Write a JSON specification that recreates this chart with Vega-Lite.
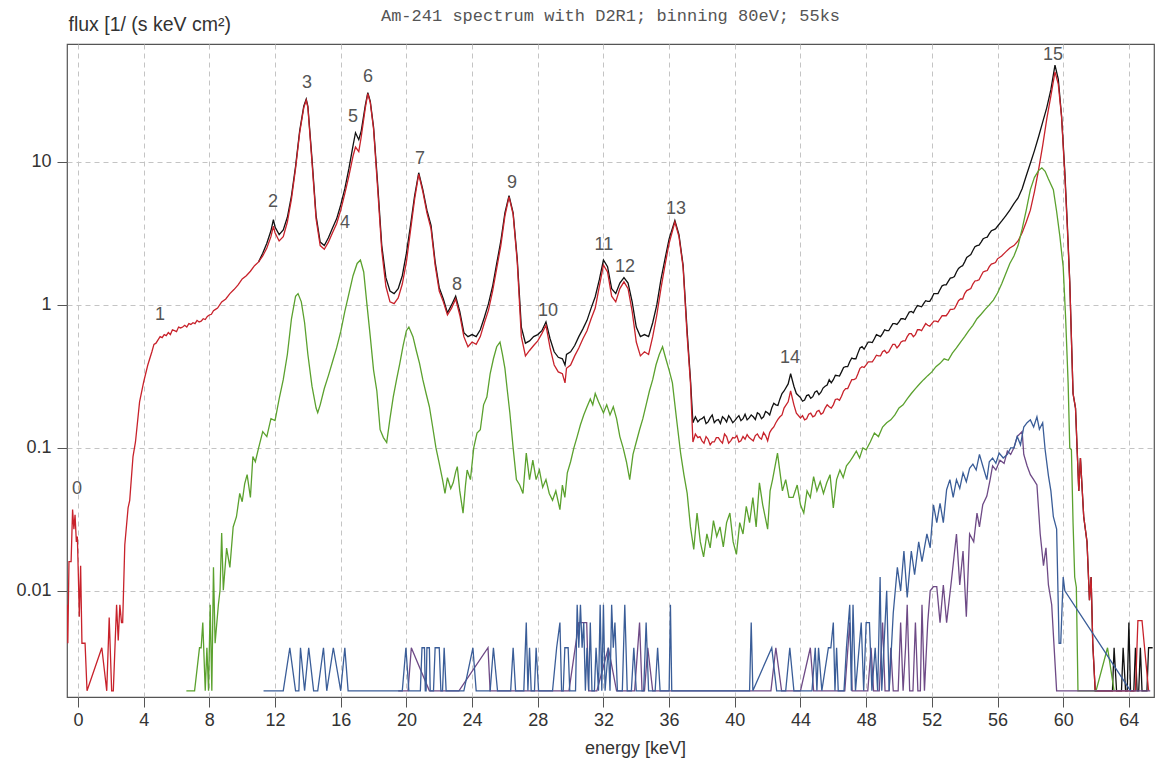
{
  "$schema": "https://vega.github.io/schema/vega-lite/v6.json",
  "width": 1087,
  "height": 653,
  "autosize": {"type": "none"},
  "padding": {"left": 67, "top": 44, "right": 4, "bottom": 64},
  "background": "white",
  "title": {
    "text": "Am-241 spectrum with D2R1; binning 80eV; 55ks",
    "font": "Liberation Mono",
    "fontSize": 17,
    "fontWeight": "normal",
    "color": "#555",
    "anchor": "middle",
    "offset": -11
  },
  "config": {
    "font": "Liberation Sans",
    "view": {"stroke": "#555", "strokeWidth": 1.2},
    "axis": {
      "labelFont": "Liberation Sans",
      "labelFontSize": 18,
      "labelColor": "#333",
      "tickColor": "#555",
      "tickSize": 10,
      "domain": false,
      "gridColor": "#c4c4c4",
      "gridDash": [5, 4],
      "gridWidth": 1,
      "titleFont": "Liberation Sans",
      "titleFontWeight": "normal",
      "titleFontSize": 18,
      "titleColor": "#333"
    }
  },
  "datasets": {
    "black": [
      {"e":11.0,"v":2.0},{"e":11.25,"v":2.3},{"e":11.5,"v":2.7},{"e":11.75,"v":3.3},{"e":11.9,"v":3.95},{"e":12.0,"v":3.5},{"e":12.25,"v":3.1},{"e":12.5,"v":3.35},{"e":12.75,"v":4.1},{"e":13.0,"v":5.8},{"e":13.25,"v":9.3},{"e":13.5,"v":16.5},{"e":13.75,"v":24.5},{"e":13.9,"v":27.5},{"e":14.0,"v":24.5},{"e":14.25,"v":10.5},{"e":14.5,"v":4.2},{"e":14.75,"v":2.75},{"e":15.0,"v":2.6},{"e":15.25,"v":2.95},{"e":15.5,"v":3.45},{"e":15.75,"v":4.0},{"e":16.0,"v":5.0},{"e":16.25,"v":6.5},{"e":16.5,"v":9.0},{"e":16.75,"v":13},{"e":16.9,"v":16},{"e":17.1,"v":14.3},{"e":17.25,"v":16.5},{"e":17.5,"v":25},{"e":17.65,"v":30.5},{"e":17.8,"v":26.5},{"e":18.0,"v":17.5},{"e":18.25,"v":7},{"e":18.5,"v":2.6},{"e":18.75,"v":1.55},{"e":19.0,"v":1.25},{"e":19.25,"v":1.2},{"e":19.5,"v":1.3},{"e":19.75,"v":1.6},{"e":20.0,"v":2.3},{"e":20.25,"v":3.6},{"e":20.5,"v":5.8},{"e":20.75,"v":8.4},{"e":21.0,"v":6.4},{"e":21.25,"v":4.6},{"e":21.5,"v":3.6},{"e":21.75,"v":2.0},{"e":22.0,"v":1.32},{"e":22.25,"v":1.1},{"e":22.5,"v":0.88},{"e":22.75,"v":1.0},{"e":23.0,"v":1.15},{"e":23.25,"v":0.9},{"e":23.5,"v":0.64},{"e":23.75,"v":0.6},{"e":24.0,"v":0.62},{"e":24.25,"v":0.6},{"e":24.5,"v":0.67},{"e":24.75,"v":0.82},{"e":25.0,"v":1.02},{"e":25.25,"v":1.35},{"e":25.5,"v":1.95},{"e":25.75,"v":2.8},{"e":26.0,"v":4.4},{"e":26.25,"v":5.8},{"e":26.5,"v":4.4},{"e":26.75,"v":2.1},{"e":27.0,"v":0.7},{"e":27.25,"v":0.54},{"e":27.5,"v":0.56},{"e":27.75,"v":0.6},{"e":28.0,"v":0.62},{"e":28.25,"v":0.66},{"e":28.5,"v":0.76},{"e":28.75,"v":0.58},{"e":29.0,"v":0.47},{"e":29.25,"v":0.43},{"e":29.5,"v":0.42},{"e":29.66,"v":0.38},{"e":29.75,"v":0.45},{"e":30.0,"v":0.47},{"e":30.25,"v":0.52},{"e":30.5,"v":0.6},{"e":30.75,"v":0.68},{"e":31.0,"v":0.78},{"e":31.25,"v":0.95},{"e":31.5,"v":1.14},{"e":31.75,"v":1.5},{"e":32.0,"v":2.06},{"e":32.25,"v":1.85},{"e":32.5,"v":1.3},{"e":32.75,"v":1.2},{"e":33.0,"v":1.42},{"e":33.25,"v":1.55},{"e":33.5,"v":1.42},{"e":33.75,"v":1.05},{"e":34.0,"v":0.7},{"e":34.25,"v":0.6},{"e":34.5,"v":0.62},{"e":34.75,"v":0.6},{"e":35.0,"v":0.75},{"e":35.25,"v":1.0},{"e":35.5,"v":1.5},{"e":35.75,"v":2.1},{"e":36.0,"v":2.9},{"e":36.35,"v":3.9},{"e":36.6,"v":3.1},{"e":36.85,"v":1.9},{"e":37.1,"v":0.65},{"e":37.3,"v":0.3},{"e":37.45,"v":0.15},{"e":37.6,"v":0.165},{"e":37.75,"v":0.152},{"e":38.0,"v":0.16},{"e":38.25,"v":0.148},{"e":38.5,"v":0.162},{"e":38.75,"v":0.15},{"e":39.0,"v":0.158},{"e":39.25,"v":0.165},{"e":39.5,"v":0.152},{"e":39.75,"v":0.16},{"e":40.0,"v":0.155},{"e":40.25,"v":0.168},{"e":40.5,"v":0.16},{"e":40.75,"v":0.157},{"e":41.0,"v":0.17},{"e":41.25,"v":0.158},{"e":41.5,"v":0.172},{"e":41.75,"v":0.165},{"e":42.0,"v":0.176},{"e":42.25,"v":0.19},{"e":42.5,"v":0.2},{"e":42.75,"v":0.22},{"e":43.0,"v":0.25},{"e":43.25,"v":0.28},{"e":43.4,"v":0.33},{"e":43.6,"v":0.27},{"e":43.75,"v":0.24},{"e":44.0,"v":0.225},{"e":44.25,"v":0.216},{"e":44.5,"v":0.235},{"e":44.75,"v":0.228},{"e":45.0,"v":0.25},{"e":45.25,"v":0.245},{"e":45.5,"v":0.27},{"e":45.75,"v":0.3},{"e":46.0,"v":0.3},{"e":46.25,"v":0.32},{"e":46.5,"v":0.34},{"e":46.75,"v":0.37},{"e":47.0,"v":0.4},{"e":47.25,"v":0.42},{"e":47.5,"v":0.46},{"e":47.75,"v":0.51},{"e":48.0,"v":0.52},{"e":48.25,"v":0.55},{"e":48.5,"v":0.58},{"e":48.75,"v":0.61},{"e":49.0,"v":0.63},{"e":49.25,"v":0.66},{"e":49.5,"v":0.7},{"e":49.75,"v":0.74},{"e":50.0,"v":0.76},{"e":50.25,"v":0.8},{"e":50.5,"v":0.84},{"e":50.75,"v":0.9},{"e":51.0,"v":0.94},{"e":51.25,"v":0.98},{"e":51.5,"v":1.02},{"e":51.75,"v":1.06},{"e":52.0,"v":1.12},{"e":52.25,"v":1.2},{"e":52.5,"v":1.28},{"e":52.75,"v":1.38},{"e":53.0,"v":1.46},{"e":53.25,"v":1.55},{"e":53.5,"v":1.7},{"e":53.75,"v":1.85},{"e":54.0,"v":2.0},{"e":54.25,"v":2.2},{"e":54.5,"v":2.4},{"e":54.75,"v":2.6},{"e":55.0,"v":2.75},{"e":55.25,"v":2.95},{"e":55.5,"v":3.15},{"e":55.75,"v":3.35},{"e":56.0,"v":3.55},{"e":56.25,"v":3.85},{"e":56.5,"v":4.2},{"e":56.75,"v":4.6},{"e":57.0,"v":5.1},{"e":57.25,"v":5.6},{"e":57.5,"v":6.5},{"e":57.75,"v":8},{"e":58.0,"v":9.8},{"e":58.25,"v":12},{"e":58.5,"v":15},{"e":58.75,"v":19},{"e":59.0,"v":24},{"e":59.25,"v":32},{"e":59.5,"v":47.6},{"e":59.7,"v":38},{"e":59.9,"v":21},{"e":60.1,"v":8.5},{"e":60.25,"v":3.7},{"e":60.4,"v":1.45},{"e":60.6,"v":0.24},{"e":60.75,"v":0.19},{"e":60.85,"v":0.097},{"e":60.95,"v":0.05},{"e":61.05,"v":0.085},{"e":61.25,"v":0.033},{"e":61.45,"v":0.022},{"e":61.6,"v":0.0086},{"e":61.7,"v":0.0125},{"e":61.8,"v":0.0043},{"e":61.95,"v":0.002},{"e":63.0,"v":0.002},{"e":63.1,"v":0.004},{"e":63.25,"v":0.002},{"e":63.55,"v":0.002},{"e":63.65,"v":0.004},{"e":63.8,"v":0.002},{"e":63.9,"v":0.002},{"e":64.0,"v":0.006},{"e":64.1,"v":0.002},{"e":64.3,"v":0.002},{"e":64.4,"v":0.004},{"e":64.5,"v":0.002},{"e":64.6,"v":0.002},{"e":64.7,"v":0.004},{"e":64.8,"v":0.002},{"e":65.1,"v":0.002},{"e":65.2,"v":0.004},{"e":65.45,"v":0.004},
      {"e":37.875,"v":0.158},{"e":38.125,"v":0.165},{"e":38.375,"v":0.152},{"e":38.625,"v":0.17},{"e":38.875,"v":0.156},{"e":39.125,"v":0.148},{"e":39.375,"v":0.16},{"e":39.625,"v":0.168},{"e":39.875,"v":0.15},{"e":40.125,"v":0.162},{"e":40.375,"v":0.155},{"e":40.625,"v":0.172},{"e":40.875,"v":0.162},{"e":41.125,"v":0.165},{"e":41.375,"v":0.176},{"e":41.625,"v":0.16},{"e":41.875,"v":0.18},{"e":42.125,"v":0.17},{"e":42.375,"v":0.205},{"e":42.625,"v":0.198},{"e":42.875,"v":0.24},
      {"e":44.125,"v":0.212},{"e":44.375,"v":0.232},{"e":44.625,"v":0.222},{"e":44.875,"v":0.245},{"e":45.125,"v":0.236},{"e":45.375,"v":0.262},{"e":45.625,"v":0.275},{"e":45.875,"v":0.285},{"e":46.125,"v":0.322},{"e":46.375,"v":0.318},{"e":46.625,"v":0.365},{"e":46.875,"v":0.37},{"e":47.125,"v":0.425},{"e":47.375,"v":0.42},{"e":47.625,"v":0.5},{"e":47.875,"v":0.49},{"e":48.125,"v":0.55},{"e":48.375,"v":0.545},{"e":48.625,"v":0.62},{"e":48.875,"v":0.6},{"e":49.125,"v":0.67},{"e":49.375,"v":0.66},{"e":49.625,"v":0.74},{"e":49.875,"v":0.73},{"e":50.125,"v":0.8},{"e":50.375,"v":0.79},{"e":50.625,"v":0.89},{"e":50.875,"v":0.88},{"e":51.125,"v":0.99},{"e":51.375,"v":0.97},{"e":51.625,"v":1.07},{"e":51.875,"v":1.06},{"e":52.125,"v":1.2},{"e":52.375,"v":1.2},{"e":52.625,"v":1.36},{"e":52.875,"v":1.38},{"e":53.125,"v":1.54},{"e":53.375,"v":1.58},{"e":53.625,"v":1.8},{"e":53.875,"v":1.88},{"e":54.125,"v":2.15},{"e":54.375,"v":2.25},{"e":54.625,"v":2.55},{"e":54.875,"v":2.62},{"e":55.125,"v":2.9},{"e":55.375,"v":2.98},{"e":55.625,"v":3.3},{"e":55.875,"v":3.4}
    ],
    "red": [
      {"e":-0.66,"v":0.008},{"e":-0.62,"v":0.0043},{"e":-0.55,"v":0.016},{"e":-0.42,"v":0.016},{"e":-0.33,"v":0.037},{"e":-0.25,"v":0.027},{"e":-0.18,"v":0.034},{"e":-0.1,"v":0.022},{"e":-0.04,"v":0.024},{"e":0.02,"v":0.013},{"e":0.08,"v":0.0066},{"e":0.16,"v":0.015},{"e":0.24,"v":0.0043},{"e":0.43,"v":0.0043},{"e":0.55,"v":0.002},{"e":1.45,"v":0.004},{"e":1.75,"v":0.002},{"e":1.9,"v":0.0065},{"e":2.05,"v":0.002},{"e":2.15,"v":0.002},{"e":2.35,"v":0.008},{"e":2.45,"v":0.0045},{"e":2.55,"v":0.008},{"e":2.65,"v":0.006},{"e":2.72,"v":0.006},{"e":2.85,"v":0.021},{"e":3.05,"v":0.038},{"e":3.15,"v":0.043},{"e":3.35,"v":0.087},{"e":3.5,"v":0.11},{"e":3.75,"v":0.21},{"e":4.0,"v":0.29},{"e":4.25,"v":0.38},{"e":4.5,"v":0.47},{"e":4.625,"v":0.53},{"e":4.75,"v":0.54},{"e":4.875,"v":0.57},{"e":5.0,"v":0.6},{"e":5.125,"v":0.59},{"e":5.25,"v":0.62},{"e":5.375,"v":0.61},{"e":5.5,"v":0.64},{"e":5.625,"v":0.62},{"e":5.75,"v":0.67},{"e":5.875,"v":0.66},{"e":6.0,"v":0.65},{"e":6.125,"v":0.7},{"e":6.25,"v":0.69},{"e":6.375,"v":0.7},{"e":6.5,"v":0.72},{"e":6.625,"v":0.7},{"e":6.75,"v":0.74},{"e":6.875,"v":0.73},{"e":7.0,"v":0.75},{"e":7.125,"v":0.74},{"e":7.25,"v":0.78},{"e":7.375,"v":0.76},{"e":7.5,"v":0.77},{"e":7.625,"v":0.8},{"e":7.75,"v":0.79},{"e":7.875,"v":0.83},{"e":8.0,"v":0.85},{"e":8.125,"v":0.86},{"e":8.25,"v":0.91},{"e":8.375,"v":0.93},{"e":8.5,"v":0.95},{"e":8.75,"v":1.05},{"e":9.0,"v":1.1},{"e":9.25,"v":1.2},{"e":9.5,"v":1.28},{"e":9.75,"v":1.38},{"e":10.0,"v":1.52},{"e":10.25,"v":1.6},{"e":10.5,"v":1.72},{"e":10.75,"v":1.88},{"e":11.0,"v":2.0},{"e":11.25,"v":2.2},{"e":11.5,"v":2.5},{"e":11.75,"v":3.0},{"e":11.9,"v":3.55},{"e":12.0,"v":3.2},{"e":12.25,"v":2.8},{"e":12.5,"v":3.0},{"e":12.75,"v":3.8},{"e":13.0,"v":5.5},{"e":13.25,"v":9.0},{"e":13.5,"v":16},{"e":13.75,"v":24},{"e":13.9,"v":27},{"e":14.0,"v":24},{"e":14.25,"v":10},{"e":14.5,"v":4.0},{"e":14.75,"v":2.6},{"e":15.0,"v":2.45},{"e":15.25,"v":2.75},{"e":15.5,"v":3.2},{"e":15.75,"v":3.7},{"e":16.0,"v":4.6},{"e":16.25,"v":6.0},{"e":16.5,"v":8.0},{"e":16.75,"v":11},{"e":16.9,"v":12.7},{"e":17.1,"v":11.8},{"e":17.25,"v":15},{"e":17.5,"v":24},{"e":17.65,"v":30},{"e":17.8,"v":26},{"e":18.0,"v":17},{"e":18.25,"v":6.5},{"e":18.5,"v":2.4},{"e":18.75,"v":1.35},{"e":19.0,"v":1.05},{"e":19.25,"v":1.02},{"e":19.5,"v":1.12},{"e":19.75,"v":1.4},{"e":20.0,"v":2.0},{"e":20.25,"v":3.3},{"e":20.5,"v":5.5},{"e":20.75,"v":8.2},{"e":21.0,"v":6.2},{"e":21.25,"v":4.4},{"e":21.5,"v":3.4},{"e":21.75,"v":1.9},{"e":22.0,"v":1.25},{"e":22.25,"v":1.05},{"e":22.5,"v":0.85},{"e":22.75,"v":0.95},{"e":23.0,"v":1.1},{"e":23.25,"v":0.85},{"e":23.5,"v":0.6},{"e":23.75,"v":0.51},{"e":24.0,"v":0.55},{"e":24.25,"v":0.53},{"e":24.5,"v":0.6},{"e":24.75,"v":0.75},{"e":25.0,"v":0.92},{"e":25.25,"v":1.25},{"e":25.5,"v":1.8},{"e":25.75,"v":2.6},{"e":26.0,"v":4.2},{"e":26.25,"v":5.7},{"e":26.5,"v":4.3},{"e":26.75,"v":2.0},{"e":27.0,"v":0.6},{"e":27.25,"v":0.44},{"e":27.5,"v":0.48},{"e":27.75,"v":0.52},{"e":28.0,"v":0.56},{"e":28.25,"v":0.63},{"e":28.5,"v":0.72},{"e":28.75,"v":0.5},{"e":29.0,"v":0.38},{"e":29.25,"v":0.34},{"e":29.5,"v":0.33},{"e":29.66,"v":0.285},{"e":29.75,"v":0.36},{"e":30.0,"v":0.38},{"e":30.25,"v":0.44},{"e":30.5,"v":0.5},{"e":30.75,"v":0.58},{"e":31.0,"v":0.66},{"e":31.25,"v":0.8},{"e":31.5,"v":0.95},{"e":31.75,"v":1.35},{"e":32.0,"v":1.9},{"e":32.25,"v":1.7},{"e":32.5,"v":1.15},{"e":32.75,"v":1.05},{"e":33.0,"v":1.3},{"e":33.25,"v":1.45},{"e":33.5,"v":1.3},{"e":33.75,"v":0.9},{"e":34.0,"v":0.55},{"e":34.25,"v":0.44},{"e":34.5,"v":0.47},{"e":34.75,"v":0.45},{"e":35.0,"v":0.6},{"e":35.25,"v":0.85},{"e":35.5,"v":1.3},{"e":35.75,"v":1.9},{"e":36.0,"v":2.7},{"e":36.35,"v":3.8},{"e":36.6,"v":3.0},{"e":36.85,"v":1.84},{"e":37.1,"v":0.6},{"e":37.3,"v":0.285},{"e":37.45,"v":0.11},{"e":37.6,"v":0.125},{"e":37.75,"v":0.118},{"e":38.0,"v":0.112},{"e":38.25,"v":0.12},{"e":38.5,"v":0.105},{"e":38.75,"v":0.11},{"e":39.0,"v":0.118},{"e":39.25,"v":0.108},{"e":39.5,"v":0.12},{"e":39.75,"v":0.112},{"e":40.0,"v":0.117},{"e":40.25,"v":0.11},{"e":40.5,"v":0.12},{"e":40.75,"v":0.124},{"e":41.0,"v":0.115},{"e":41.25,"v":0.122},{"e":41.5,"v":0.118},{"e":41.75,"v":0.128},{"e":42.0,"v":0.112},{"e":42.25,"v":0.135},{"e":42.5,"v":0.15},{"e":42.75,"v":0.165},{"e":43.0,"v":0.19},{"e":43.25,"v":0.21},{"e":43.4,"v":0.25},{"e":43.6,"v":0.2},{"e":43.75,"v":0.175},{"e":44.0,"v":0.162},{"e":44.25,"v":0.157},{"e":44.5,"v":0.172},{"e":44.75,"v":0.165},{"e":45.0,"v":0.18},{"e":45.25,"v":0.172},{"e":45.5,"v":0.19},{"e":45.75,"v":0.194},{"e":46.0,"v":0.2},{"e":46.25,"v":0.22},{"e":46.5,"v":0.23},{"e":46.75,"v":0.26},{"e":47.0,"v":0.28},{"e":47.25,"v":0.3},{"e":47.5,"v":0.33},{"e":47.75,"v":0.37},{"e":48.0,"v":0.38},{"e":48.25,"v":0.4},{"e":48.5,"v":0.42},{"e":48.75,"v":0.44},{"e":49.0,"v":0.47},{"e":49.25,"v":0.46},{"e":49.5,"v":0.5},{"e":49.75,"v":0.53},{"e":50.0,"v":0.52},{"e":50.25,"v":0.56},{"e":50.5,"v":0.6},{"e":50.75,"v":0.63},{"e":51.0,"v":0.62},{"e":51.25,"v":0.67},{"e":51.5,"v":0.7},{"e":51.75,"v":0.72},{"e":52.0,"v":0.74},{"e":52.25,"v":0.77},{"e":52.5,"v":0.8},{"e":52.75,"v":0.84},{"e":53.0,"v":0.88},{"e":53.25,"v":0.93},{"e":53.5,"v":1.0},{"e":53.75,"v":1.1},{"e":54.0,"v":1.2},{"e":54.25,"v":1.28},{"e":54.5,"v":1.4},{"e":54.75,"v":1.48},{"e":55.0,"v":1.6},{"e":55.25,"v":1.72},{"e":55.5,"v":1.85},{"e":55.75,"v":1.95},{"e":56.0,"v":2.1},{"e":56.25,"v":2.2},{"e":56.5,"v":2.35},{"e":56.75,"v":2.5},{"e":57.0,"v":2.6},{"e":57.25,"v":2.8},{"e":57.5,"v":3.2},{"e":57.75,"v":3.8},{"e":58.0,"v":4.6},{"e":58.25,"v":6.2},{"e":58.5,"v":8.8},{"e":58.75,"v":13},{"e":59.0,"v":20},{"e":59.25,"v":29},{"e":59.5,"v":42.6},{"e":59.7,"v":35},{"e":59.9,"v":20.7},{"e":60.1,"v":8},{"e":60.25,"v":3.5},{"e":60.4,"v":1.42},{"e":60.6,"v":0.24},{"e":60.75,"v":0.19},{"e":60.85,"v":0.097},{"e":60.95,"v":0.05},{"e":61.05,"v":0.085},{"e":61.25,"v":0.033},{"e":61.45,"v":0.022},{"e":61.6,"v":0.0086},{"e":61.7,"v":0.0125},{"e":61.8,"v":0.0043},{"e":61.95,"v":0.002},{"e":64.4,"v":0.002},{"e":64.55,"v":0.0062},{"e":64.8,"v":0.0062},{"e":65.2,"v":0.002},
      {"e":37.875,"v":0.12},{"e":38.125,"v":0.108},{"e":38.375,"v":0.115},{"e":38.625,"v":0.11},{"e":38.875,"v":0.118},{"e":39.125,"v":0.112},{"e":39.375,"v":0.125},{"e":39.625,"v":0.108},{"e":39.875,"v":0.118},{"e":40.125,"v":0.122},{"e":40.375,"v":0.112},{"e":40.625,"v":0.115},{"e":40.875,"v":0.118},{"e":41.125,"v":0.112},{"e":41.375,"v":0.125},{"e":41.625,"v":0.115},{"e":41.875,"v":0.122},{"e":42.125,"v":0.128},{"e":42.375,"v":0.14},{"e":42.625,"v":0.158},{"e":42.875,"v":0.17},
      {"e":44.125,"v":0.168},{"e":44.375,"v":0.16},{"e":44.625,"v":0.175},{"e":44.875,"v":0.168},{"e":45.125,"v":0.183},{"e":45.375,"v":0.176},{"e":45.625,"v":0.2},{"e":45.875,"v":0.19},{"e":46.125,"v":0.218},{"e":46.375,"v":0.215},{"e":46.625,"v":0.25},{"e":46.875,"v":0.26},{"e":47.125,"v":0.3},{"e":47.375,"v":0.305},{"e":47.625,"v":0.36},{"e":47.875,"v":0.365},{"e":48.125,"v":0.4},{"e":48.375,"v":0.4},{"e":48.625,"v":0.445},{"e":48.875,"v":0.44},{"e":49.125,"v":0.48},{"e":49.375,"v":0.47},{"e":49.625,"v":0.53},{"e":49.875,"v":0.5},{"e":50.125,"v":0.55},{"e":50.375,"v":0.56},{"e":50.625,"v":0.63},{"e":50.875,"v":0.6},{"e":51.125,"v":0.67},{"e":51.375,"v":0.66},{"e":51.625,"v":0.74},{"e":51.875,"v":0.71},{"e":52.125,"v":0.77},{"e":52.375,"v":0.76},{"e":52.625,"v":0.84},{"e":52.875,"v":0.84},{"e":53.125,"v":0.93},{"e":53.375,"v":0.94},{"e":53.625,"v":1.07},{"e":53.875,"v":1.1},{"e":54.125,"v":1.26},{"e":54.375,"v":1.3},{"e":54.625,"v":1.47},{"e":54.875,"v":1.5},{"e":55.125,"v":1.7},{"e":55.375,"v":1.74},{"e":55.625,"v":1.93},{"e":55.875,"v":1.98}
    ],
    "green": [
      {"e":6.6,"v":0.002},{"e":7.1,"v":0.002},{"e":7.4,"v":0.004},{"e":7.5,"v":0.004},{"e":7.6,"v":0.006},{"e":7.75,"v":0.002},{"e":7.85,"v":0.004},{"e":7.95,"v":0.002},{"e":8.05,"v":0.008},{"e":8.15,"v":0.002},{"e":8.25,"v":0.0146},{"e":8.35,"v":0.0043},{"e":8.55,"v":0.008},{"e":8.65,"v":0.0101},{"e":8.75,"v":0.0254},{"e":8.85,"v":0.0101},{"e":9.05,"v":0.0199},{"e":9.25,"v":0.0146},{"e":9.45,"v":0.028},{"e":9.65,"v":0.033},{"e":9.85,"v":0.048},{"e":10.0,"v":0.042},{"e":10.15,"v":0.056},{"e":10.3,"v":0.065},{"e":10.5,"v":0.045},{"e":10.65,"v":0.087},{"e":10.8,"v":0.08},{"e":11.0,"v":0.1},{"e":11.25,"v":0.13},{"e":11.5,"v":0.12},{"e":11.75,"v":0.16},{"e":12.0,"v":0.155},{"e":12.25,"v":0.22},{"e":12.5,"v":0.3},{"e":12.75,"v":0.45},{"e":13.0,"v":0.8},{"e":13.25,"v":1.15},{"e":13.4,"v":1.2},{"e":13.6,"v":1.05},{"e":13.8,"v":0.75},{"e":14.0,"v":0.45},{"e":14.25,"v":0.27},{"e":14.5,"v":0.19},{"e":14.6,"v":0.176},{"e":14.75,"v":0.2},{"e":15.0,"v":0.26},{"e":15.25,"v":0.32},{"e":15.5,"v":0.4},{"e":15.75,"v":0.5},{"e":16.0,"v":0.65},{"e":16.25,"v":0.9},{"e":16.5,"v":1.2},{"e":16.75,"v":1.6},{"e":17.0,"v":1.95},{"e":17.2,"v":2.06},{"e":17.4,"v":1.7},{"e":17.6,"v":1.0},{"e":17.8,"v":0.6},{"e":18.0,"v":0.35},{"e":18.2,"v":0.25},{"e":18.4,"v":0.134},{"e":18.6,"v":0.118},{"e":18.8,"v":0.109},{"e":19.0,"v":0.16},{"e":19.2,"v":0.227},{"e":19.4,"v":0.3},{"e":19.6,"v":0.39},{"e":19.8,"v":0.52},{"e":20.0,"v":0.66},{"e":20.15,"v":0.7},{"e":20.4,"v":0.6},{"e":20.6,"v":0.48},{"e":20.8,"v":0.39},{"e":21.0,"v":0.3},{"e":21.2,"v":0.24},{"e":21.4,"v":0.194},{"e":21.6,"v":0.14},{"e":21.8,"v":0.1},{"e":22.0,"v":0.078},{"e":22.2,"v":0.06},{"e":22.35,"v":0.048},{"e":22.5,"v":0.062},{"e":22.7,"v":0.052},{"e":22.85,"v":0.057},{"e":23.0,"v":0.068},{"e":23.1,"v":0.074},{"e":23.25,"v":0.05},{"e":23.45,"v":0.035},{"e":23.6,"v":0.055},{"e":23.7,"v":0.07},{"e":23.9,"v":0.06},{"e":24.1,"v":0.1},{"e":24.3,"v":0.127},{"e":24.5,"v":0.134},{"e":24.7,"v":0.2},{"e":24.9,"v":0.227},{"e":25.1,"v":0.33},{"e":25.3,"v":0.42},{"e":25.5,"v":0.51},{"e":25.7,"v":0.55},{"e":25.85,"v":0.45},{"e":26.0,"v":0.36},{"e":26.15,"v":0.25},{"e":26.3,"v":0.176},{"e":26.5,"v":0.1},{"e":26.7,"v":0.06},{"e":26.9,"v":0.055},{"e":27.1,"v":0.048},{"e":27.3,"v":0.092},{"e":27.5,"v":0.06},{"e":27.7,"v":0.082},{"e":27.9,"v":0.06},{"e":28.1,"v":0.07},{"e":28.3,"v":0.053},{"e":28.5,"v":0.06},{"e":28.7,"v":0.048},{"e":28.9,"v":0.043},{"e":29.1,"v":0.05},{"e":29.35,"v":0.037},{"e":29.5,"v":0.055},{"e":29.65,"v":0.045},{"e":29.8,"v":0.067},{"e":30.0,"v":0.08},{"e":30.2,"v":0.1},{"e":30.4,"v":0.12},{"e":30.6,"v":0.145},{"e":30.8,"v":0.17},{"e":31.0,"v":0.194},{"e":31.2,"v":0.22},{"e":31.35,"v":0.2},{"e":31.5,"v":0.24},{"e":31.7,"v":0.21},{"e":32.0,"v":0.176},{"e":32.2,"v":0.2},{"e":32.4,"v":0.17},{"e":32.6,"v":0.194},{"e":32.8,"v":0.16},{"e":33.0,"v":0.12},{"e":33.2,"v":0.1},{"e":33.4,"v":0.08},{"e":33.6,"v":0.06},{"e":33.8,"v":0.09},{"e":34.0,"v":0.11},{"e":34.2,"v":0.134},{"e":34.4,"v":0.16},{"e":34.6,"v":0.2},{"e":34.8,"v":0.25},{"e":35.0,"v":0.3},{"e":35.2,"v":0.38},{"e":35.4,"v":0.45},{"e":35.6,"v":0.51},{"e":35.8,"v":0.42},{"e":36.0,"v":0.35},{"e":36.2,"v":0.285},{"e":36.45,"v":0.16},{"e":36.7,"v":0.092},{"e":36.9,"v":0.065},{"e":37.1,"v":0.048},{"e":37.3,"v":0.028},{"e":37.5,"v":0.0195},{"e":37.7,"v":0.035},{"e":37.9,"v":0.022},{"e":38.1,"v":0.0173},{"e":38.3,"v":0.025},{"e":38.5,"v":0.02},{"e":38.7,"v":0.031},{"e":38.9,"v":0.024},{"e":39.1,"v":0.028},{"e":39.3,"v":0.0203},{"e":39.5,"v":0.03},{"e":39.7,"v":0.035},{"e":39.9,"v":0.022},{"e":40.1,"v":0.018},{"e":40.3,"v":0.03},{"e":40.5,"v":0.025},{"e":40.7,"v":0.039},{"e":40.9,"v":0.03},{"e":41.1,"v":0.045},{"e":41.3,"v":0.028},{"e":41.5,"v":0.057},{"e":41.7,"v":0.04},{"e":42.0,"v":0.027},{"e":42.15,"v":0.05},{"e":42.3,"v":0.06},{"e":42.6,"v":0.092},{"e":42.9,"v":0.05},{"e":43.1,"v":0.06},{"e":43.3,"v":0.045},{"e":43.55,"v":0.045},{"e":43.8,"v":0.055},{"e":44.0,"v":0.04},{"e":44.2,"v":0.035},{"e":44.4,"v":0.05},{"e":44.6,"v":0.045},{"e":44.8,"v":0.063},{"e":45.0,"v":0.05},{"e":45.2,"v":0.058},{"e":45.4,"v":0.048},{"e":45.6,"v":0.057},{"e":45.8,"v":0.065},{"e":46.0,"v":0.038},{"e":46.2,"v":0.06},{"e":46.4,"v":0.07},{"e":46.6,"v":0.062},{"e":46.8,"v":0.075},{"e":47.0,"v":0.08},{"e":47.2,"v":0.087},{"e":47.4,"v":0.095},{"e":47.6,"v":0.085},{"e":47.8,"v":0.1},{"e":48.0,"v":0.097},{"e":48.25,"v":0.11},{"e":48.5,"v":0.127},{"e":48.75,"v":0.12},{"e":49.0,"v":0.14},{"e":49.25,"v":0.15},{"e":49.5,"v":0.157},{"e":49.75,"v":0.17},{"e":50.0,"v":0.19},{"e":50.25,"v":0.2},{"e":50.5,"v":0.22},{"e":50.75,"v":0.24},{"e":51.0,"v":0.26},{"e":51.25,"v":0.28},{"e":51.5,"v":0.3},{"e":51.75,"v":0.32},{"e":52.0,"v":0.34},{"e":52.25,"v":0.37},{"e":52.5,"v":0.39},{"e":52.75,"v":0.42},{"e":53.0,"v":0.41},{"e":53.25,"v":0.46},{"e":53.5,"v":0.5},{"e":53.75,"v":0.55},{"e":54.0,"v":0.6},{"e":54.25,"v":0.66},{"e":54.5,"v":0.72},{"e":54.75,"v":0.8},{"e":55.0,"v":0.86},{"e":55.25,"v":0.93},{"e":55.5,"v":1.0},{"e":55.75,"v":1.08},{"e":56.0,"v":1.21},{"e":56.25,"v":1.4},{"e":56.5,"v":1.65},{"e":56.75,"v":1.95},{"e":57.0,"v":2.2},{"e":57.25,"v":2.6},{"e":57.5,"v":3.4},{"e":57.75,"v":4.6},{"e":58.0,"v":6.4},{"e":58.25,"v":7.8},{"e":58.5,"v":8.7},{"e":58.7,"v":9.1},{"e":58.9,"v":8.6},{"e":59.1,"v":7.6},{"e":59.4,"v":6.4},{"e":59.6,"v":4.5},{"e":59.8,"v":3.0},{"e":60.0,"v":1.84},{"e":60.15,"v":0.8},{"e":60.3,"v":0.285},{"e":60.4,"v":0.1},{"e":60.5,"v":0.097},{"e":60.6,"v":0.03},{"e":60.7,"v":0.0125},{"e":60.8,"v":0.0106},{"e":60.9,"v":0.002},{"e":62.0,"v":0.002},{"e":62.7,"v":0.004},{"e":63.1,"v":0.002}
    ],
    "purple": [
      {"e":19.5,"v":0.002},{"e":20.1,"v":0.002},{"e":20.3,"v":0.004},{"e":21.4,"v":0.002},{"e":23.2,"v":0.002},{"e":24.97,"v":0.004},{"e":25.1,"v":0.002},{"e":29.9,"v":0.002},{"e":30.5,"v":0.006},{"e":30.98,"v":0.006},{"e":31.1,"v":0.002},{"e":31.6,"v":0.002},{"e":32.3,"v":0.004},{"e":32.8,"v":0.002},{"e":33.9,"v":0.002},{"e":34.2,"v":0.006},{"e":34.35,"v":0.002},{"e":34.5,"v":0.002},{"e":34.7,"v":0.004},{"e":35.0,"v":0.002},{"e":42.2,"v":0.002},{"e":42.5,"v":0.004},{"e":42.85,"v":0.002},{"e":44.0,"v":0.002},{"e":44.6,"v":0.004},{"e":44.8,"v":0.002},{"e":46.7,"v":0.002},{"e":47.0,"v":0.006},{"e":47.15,"v":0.002},{"e":48.1,"v":0.002},{"e":48.3,"v":0.004},{"e":48.45,"v":0.002},{"e":48.8,"v":0.002},{"e":49.0,"v":0.006},{"e":49.15,"v":0.002},{"e":49.4,"v":0.002},{"e":49.5,"v":0.004},{"e":49.65,"v":0.002},{"e":49.95,"v":0.002},{"e":50.1,"v":0.006},{"e":50.25,"v":0.002},{"e":50.4,"v":0.004},{"e":50.5,"v":0.008},{"e":50.65,"v":0.002},{"e":50.85,"v":0.002},{"e":51.0,"v":0.006},{"e":51.15,"v":0.002},{"e":51.3,"v":0.002},{"e":51.4,"v":0.008},{"e":51.55,"v":0.002},{"e":51.75,"v":0.006},{"e":51.9,"v":0.01},{"e":52.1,"v":0.0107},{"e":52.3,"v":0.0107},{"e":52.5,"v":0.006},{"e":52.7,"v":0.011},{"e":52.9,"v":0.006},{"e":53.2,"v":0.012},{"e":53.5,"v":0.025},{"e":53.7,"v":0.011},{"e":53.9,"v":0.019},{"e":54.1,"v":0.0066},{"e":54.3,"v":0.025},{"e":54.55,"v":0.022},{"e":54.75,"v":0.035},{"e":54.9,"v":0.028},{"e":55.1,"v":0.04},{"e":55.35,"v":0.046},{"e":55.55,"v":0.06},{"e":55.7,"v":0.075},{"e":55.9,"v":0.07},{"e":56.15,"v":0.082},{"e":56.4,"v":0.078},{"e":56.6,"v":0.095},{"e":56.8,"v":0.09},{"e":57.0,"v":0.1},{"e":57.2,"v":0.12},{"e":57.5,"v":0.13},{"e":57.6,"v":0.09},{"e":57.8,"v":0.075},{"e":58.0,"v":0.065},{"e":58.2,"v":0.06},{"e":58.4,"v":0.055},{"e":58.6,"v":0.025},{"e":58.8,"v":0.015},{"e":58.95,"v":0.02},{"e":59.1,"v":0.011},{"e":59.3,"v":0.008},{"e":59.4,"v":0.005},{"e":59.6,"v":0.002},{"e":65.3,"v":0.002}
    ],
    "blue": [
      {"e":11.3,"v":0.002},{"e":12.5,"v":0.002},{"e":12.9,"v":0.004},{"e":13.25,"v":0.002},{"e":13.45,"v":0.002},{"e":13.55,"v":0.004},{"e":13.8,"v":0.002},{"e":14.05,"v":0.004},{"e":14.35,"v":0.002},{"e":14.6,"v":0.002},{"e":14.95,"v":0.004},{"e":15.15,"v":0.002},{"e":15.55,"v":0.004},{"e":16.0,"v":0.002},{"e":16.25,"v":0.004},{"e":16.45,"v":0.002},{"e":19.75,"v":0.002},{"e":19.97,"v":0.004},{"e":20.15,"v":0.002},{"e":20.85,"v":0.002},{"e":20.95,"v":0.004},{"e":21.1,"v":0.004},{"e":21.15,"v":0.002},{"e":21.2,"v":0.002},{"e":21.25,"v":0.004},{"e":21.4,"v":0.004},{"e":21.45,"v":0.002},{"e":21.65,"v":0.002},{"e":21.75,"v":0.004},{"e":22.0,"v":0.004},{"e":22.1,"v":0.002},{"e":22.2,"v":0.002},{"e":22.3,"v":0.004},{"e":22.42,"v":0.002},{"e":23.5,"v":0.002},{"e":24.05,"v":0.004},{"e":24.25,"v":0.002},{"e":25.1,"v":0.002},{"e":25.3,"v":0.004},{"e":25.55,"v":0.002},{"e":26.35,"v":0.002},{"e":26.5,"v":0.004},{"e":26.65,"v":0.002},{"e":27.15,"v":0.002},{"e":27.3,"v":0.006},{"e":27.4,"v":0.002},{"e":27.5,"v":0.004},{"e":27.6,"v":0.002},{"e":27.8,"v":0.002},{"e":27.9,"v":0.004},{"e":28.05,"v":0.002},{"e":28.9,"v":0.002},{"e":29.15,"v":0.004},{"e":29.35,"v":0.006},{"e":29.45,"v":0.002},{"e":29.55,"v":0.002},{"e":29.65,"v":0.004},{"e":29.85,"v":0.004},{"e":29.95,"v":0.002},{"e":30.3,"v":0.002},{"e":30.4,"v":0.008},{"e":30.5,"v":0.004},{"e":30.6,"v":0.008},{"e":30.7,"v":0.004},{"e":30.8,"v":0.006},{"e":30.9,"v":0.002},{"e":31.0,"v":0.004},{"e":31.1,"v":0.002},{"e":31.2,"v":0.006},{"e":31.3,"v":0.002},{"e":31.45,"v":0.002},{"e":31.55,"v":0.004},{"e":31.7,"v":0.002},{"e":31.8,"v":0.008},{"e":31.9,"v":0.002},{"e":32.0,"v":0.008},{"e":32.1,"v":0.002},{"e":32.3,"v":0.004},{"e":32.4,"v":0.002},{"e":32.5,"v":0.008},{"e":32.6,"v":0.004},{"e":32.7,"v":0.006},{"e":32.85,"v":0.002},{"e":33.15,"v":0.002},{"e":33.3,"v":0.008},{"e":33.45,"v":0.002},{"e":33.7,"v":0.002},{"e":33.85,"v":0.004},{"e":34.0,"v":0.002},{"e":34.45,"v":0.002},{"e":34.6,"v":0.006},{"e":34.75,"v":0.002},{"e":35.15,"v":0.002},{"e":35.3,"v":0.004},{"e":35.45,"v":0.002},{"e":36.0,"v":0.002},{"e":36.08,"v":0.008},{"e":36.16,"v":0.002},{"e":40.9,"v":0.002},{"e":41.0,"v":0.006},{"e":41.1,"v":0.002},{"e":42.25,"v":0.004},{"e":42.55,"v":0.002},{"e":43.1,"v":0.002},{"e":43.35,"v":0.004},{"e":43.6,"v":0.002},{"e":44.7,"v":0.002},{"e":44.9,"v":0.004},{"e":45.0,"v":0.002},{"e":45.1,"v":0.004},{"e":45.3,"v":0.002},{"e":45.7,"v":0.004},{"e":45.85,"v":0.004},{"e":46.0,"v":0.006},{"e":46.1,"v":0.002},{"e":46.2,"v":0.004},{"e":46.3,"v":0.002},{"e":46.65,"v":0.002},{"e":46.8,"v":0.004},{"e":47.0,"v":0.008},{"e":47.1,"v":0.002},{"e":47.2,"v":0.008},{"e":47.35,"v":0.002},{"e":47.7,"v":0.006},{"e":47.85,"v":0.002},{"e":48.0,"v":0.006},{"e":48.2,"v":0.006},{"e":48.35,"v":0.002},{"e":48.55,"v":0.004},{"e":48.7,"v":0.002},{"e":48.85,"v":0.0125},{"e":48.95,"v":0.002},{"e":49.25,"v":0.01},{"e":49.4,"v":0.002},{"e":49.65,"v":0.007},{"e":49.9,"v":0.0146},{"e":50.1,"v":0.01},{"e":50.3,"v":0.019},{"e":50.5,"v":0.009},{"e":50.75,"v":0.019},{"e":50.95,"v":0.013},{"e":51.2,"v":0.022},{"e":51.4,"v":0.016},{"e":51.7,"v":0.025},{"e":51.9,"v":0.02},{"e":52.1,"v":0.04},{"e":52.3,"v":0.03},{"e":52.5,"v":0.041},{"e":52.7,"v":0.03},{"e":52.9,"v":0.051},{"e":53.1,"v":0.06},{"e":53.3,"v":0.045},{"e":53.5,"v":0.06},{"e":53.7,"v":0.052},{"e":53.9,"v":0.067},{"e":54.1,"v":0.058},{"e":54.3,"v":0.072},{"e":54.5,"v":0.077},{"e":54.7,"v":0.07},{"e":54.9,"v":0.09},{"e":55.1,"v":0.075},{"e":55.35,"v":0.06},{"e":55.5,"v":0.08},{"e":55.7,"v":0.085},{"e":55.9,"v":0.078},{"e":56.1,"v":0.092},{"e":56.35,"v":0.085},{"e":56.6,"v":0.09},{"e":56.8,"v":0.1},{"e":57.0,"v":0.1},{"e":57.2,"v":0.12},{"e":57.4,"v":0.105},{"e":57.6,"v":0.14},{"e":57.8,"v":0.15},{"e":58.0,"v":0.157},{"e":58.2,"v":0.14},{"e":58.4,"v":0.165},{"e":58.55,"v":0.135},{"e":58.75,"v":0.15},{"e":58.9,"v":0.097},{"e":59.1,"v":0.064},{"e":59.25,"v":0.05},{"e":59.4,"v":0.033},{"e":59.6,"v":0.027},{"e":59.75,"v":0.0043},{"e":59.85,"v":0.0043},{"e":60.0,"v":0.0125},{"e":60.1,"v":0.01},{"e":64.1,"v":0.002}
    ],
    "peaks": [
      {"e":-0.06,"v":0.0516,"t":"0"},{"e":4.99,"v":0.851,"t":"1"},{"e":11.88,"v":5.25,"t":"2"},{"e":13.95,"v":35.7,"t":"3"},{"e":16.26,"v":3.74,"t":"4"},{"e":16.75,"v":20.6,"t":"5"},{"e":17.66,"v":39.3,"t":"6"},{"e":20.83,"v":10.5,"t":"7"},{"e":23.08,"v":1.38,"t":"8"},{"e":26.43,"v":7.13,"t":"9"},{"e":28.62,"v":0.908,"t":"10"},{"e":32.03,"v":2.63,"t":"11"},{"e":33.31,"v":1.84,"t":"12"},{"e":36.42,"v":4.69,"t":"13"},{"e":43.36,"v":0.426,"t":"14"},{"e":59.38,"v":56,"t":"15"}
    ]
  },
  "layer": [
    {
      "data": {"name": "black"},
      "mark": {"type": "line", "color": "#111111", "strokeWidth": 1.3, "clip": true},
      "encoding": {
        "x": {
          "field": "e", "type": "quantitative",
          "scale": {"domain": [-0.67, 65.53], "nice": false, "zero": false},
          "axis": {
            "title": "energy [keV]",
            "values": [0,2,4,6,8,10,12,14,16,18,20,22,24,26,28,30,32,34,36,38,40,42,44,46,48,50,52,54,56,58,60,62,64],
            "labelExpr": "datum.value % 4 == 0 ? datum.label : ''",
            "format": "d",
            "grid": true,
            "labelPadding": 4,
            "titleX": 568,
            "titleY": 51,
            "titleBaseline": "middle",
            "titleAnchor": "start",
            "titleAlign": "center"
          }
        },
        "y": {
          "field": "v", "type": "quantitative",
          "scale": {"type": "log", "domain": [0.00181, 66.8], "nice": false},
          "axis": {
            "title": "flux [1/ (s keV cm²)",
            "titleFontSize": 19.5,
            "values": [0.01, 0.1, 1, 10],
            "format": "~g",
            "grid": true,
            "labelPadding": 6,
            "titleAngle": 0,
            "titleAlign": "left",
            "titleAnchor": "start",
            "titleBaseline": "middle",
            "titleX": 1,
            "titleY": -20
          }
        }
      }
    },
    {
      "data": {"name": "red"},
      "mark": {"type": "line", "color": "#c8222b", "strokeWidth": 1.3, "clip": true},
      "encoding": {"x": {"field": "e", "type": "quantitative"}, "y": {"field": "v", "type": "quantitative"}}
    },
    {
      "data": {"name": "green"},
      "mark": {"type": "line", "color": "#5ba12e", "strokeWidth": 1.3, "clip": true},
      "encoding": {"x": {"field": "e", "type": "quantitative"}, "y": {"field": "v", "type": "quantitative"}}
    },
    {
      "data": {"name": "purple"},
      "mark": {"type": "line", "color": "#6e4a86", "strokeWidth": 1.3, "clip": true},
      "encoding": {"x": {"field": "e", "type": "quantitative"}, "y": {"field": "v", "type": "quantitative"}}
    },
    {
      "data": {"name": "blue"},
      "mark": {"type": "line", "color": "#3a5d98", "strokeWidth": 1.3, "clip": true},
      "encoding": {"x": {"field": "e", "type": "quantitative"}, "y": {"field": "v", "type": "quantitative"}}
    },
    {
      "data": {"name": "peaks"},
      "mark": {"type": "text", "font": "Liberation Sans", "fontSize": 18, "color": "#555555", "align": "center", "baseline": "middle"},
      "encoding": {
        "x": {"field": "e", "type": "quantitative"},
        "y": {"field": "v", "type": "quantitative"},
        "text": {"field": "t"}
      }
    }
  ]
}
